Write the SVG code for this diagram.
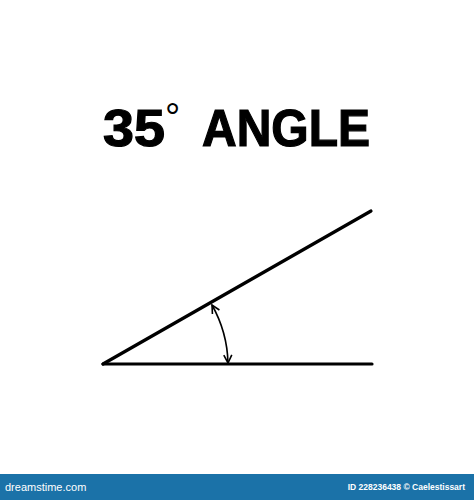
<svg xmlns="http://www.w3.org/2000/svg" width="474" height="500" viewBox="0 0 474 500">
  <defs>
    <style>
      .title{font-family:"Liberation Sans",Arial,sans-serif;font-weight:bold;fill:#000;stroke:#000;stroke-width:1.2}
      .deg{font-family:"Liberation Sans",Arial,sans-serif;fill:#000}
      .ln{stroke:#000;stroke-width:3.2;stroke-linecap:round;fill:none}
      .arc{stroke:#000;stroke-width:1.6;fill:none}
      .foot{font-family:"Liberation Sans",Arial,sans-serif;fill:#fff}
    </style>
    <marker id="ah" viewBox="0 0 10 10" refX="9" refY="5" markerWidth="10" markerHeight="10" markerUnits="userSpaceOnUse" orient="auto-start-reverse">
      <path d="M1 1 L9 5 L1 9" fill="none" stroke="#000" stroke-width="1.6"/>
    </marker>
  </defs>
  <rect width="474" height="500" fill="#fff"/>
  <g id="title">
    <text class="title" x="103" y="145.5" font-size="51" textLength="62" lengthAdjust="spacingAndGlyphs">35</text>
    <text class="deg" x="165" y="130" font-size="38">°</text>
    <text class="title" x="202" y="146" font-size="51" textLength="168" lengthAdjust="spacingAndGlyphs">ANGLE</text>
  </g>
  <g id="connectors">
    <line id="base-ray" class="ln" x1="103" y1="364" x2="372" y2="364"/>
    <line id="upper-ray" class="ln" x1="103" y1="364" x2="371" y2="211"/>
    <path id="angle-arc" class="arc" d="M 212 305 A 125 125 0 0 1 228 363" marker-start="url(#ah)" marker-end="url(#ah)"/>
  </g>
  <g id="footer">
    <rect x="0" y="474" width="474" height="26" fill="#1b72a8"/>
    <text class="foot" x="5" y="491" font-size="11">dreamstime.com</text>
    <text class="foot" x="465" y="489.5" font-size="8.5" font-weight="bold" text-anchor="end">ID 228236438 © Caelestissart</text>
  </g>
</svg>
